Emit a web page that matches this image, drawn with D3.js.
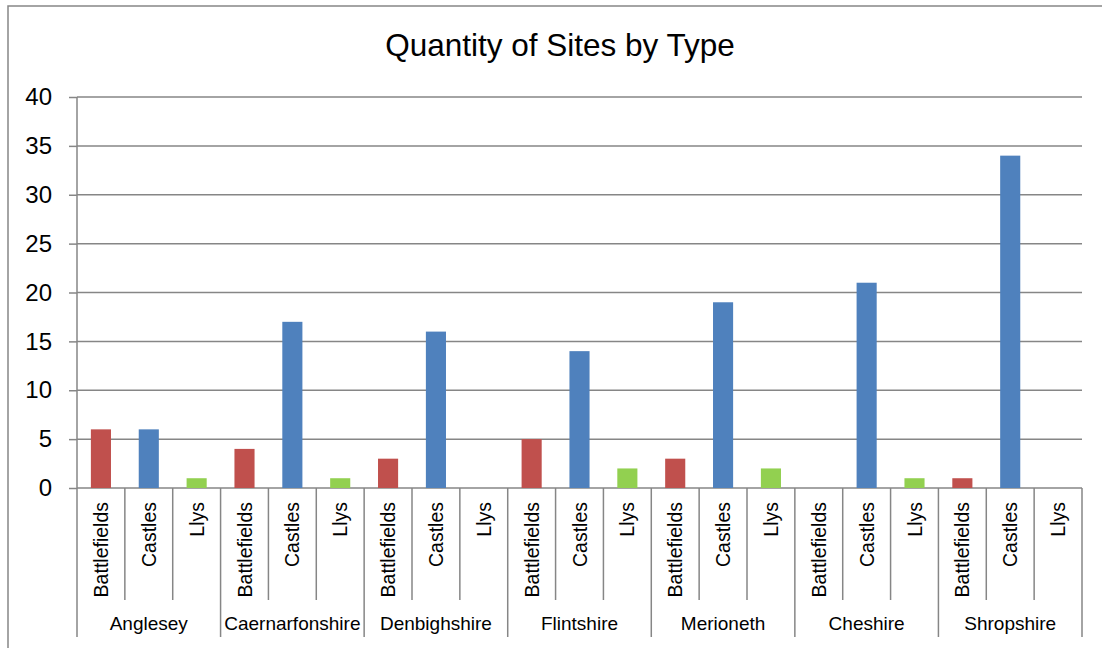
<!DOCTYPE html>
<html>
<head>
<meta charset="utf-8">
<script src="https://d3js.org/d3.v7.min.js"></script>
<style>
  body { margin: 0; background: #fff; }
  svg { display: block; font-family: "Liberation Sans", Arial, sans-serif; }
</style>
</head>
<body>
<div id="chart"></div>
<script>
// data
const counties = ["Anglesey", "Caernarfonshire", "Denbighshire", "Flintshire", "Merioneth", "Cheshire", "Shropshire"];
const types = ["Battlefields", "Castles", "Llys"];
const battlefields = [6, 4, 3, 5, 3, 0, 1];
const castles = [6, 17, 16, 14, 19, 21, 34];
const llys = [1, 1, 0, 2, 2, 1, 0];
const yTicks = [0, 5, 10, 15, 20, 25, 30, 35, 40];
const colors = { Battlefields: "#C0504D", Castles: "#4F81BD", Llys: "#92D050" };

const seriesByType = { Battlefields: battlefields, Castles: castles, Llys: llys };

// flatten into one row per county/type cell
const cells = [];
counties.forEach((c, i) => {
  types.forEach(t => {
    cells.push({ key: c + "|" + t, county: c, type: t, value: seriesByType[t][i] });
  });
});

const W = 1102, H = 648;
const plot = { left: 77, right: 1082, top: 97, bottom: 488 };

const svg = d3.select("#chart").append("svg")
  .attr("width", W)
  .attr("height", H);

// chart border
svg.append("rect")
  .attr("x", 8).attr("y", 6)
  .attr("width", W + 10).attr("height", H + 10)
  .attr("fill", "none")
  .attr("stroke", "#868686")
  .attr("stroke-width", 1.5);

// title
svg.append("text")
  .attr("x", 560).attr("y", 56)
  .attr("text-anchor", "middle")
  .attr("font-size", 31.5)
  .attr("fill", "#000")
  .text("Quantity of Sites by Type");

const x = d3.scaleBand()
  .domain(cells.map(d => d.key))
  .range([plot.left, plot.right])
  .padding(0);

const y = d3.scaleLinear()
  .domain([0, 40])
  .range([plot.bottom, plot.top]);

// gridlines + y ticks
const yAxis = svg.append("g")
  .attr("transform", "translate(" + plot.left + ",0)")
  .call(d3.axisLeft(y).tickValues(yTicks).tickSize(8).tickPadding(17));
yAxis.select(".domain").remove();
yAxis.selectAll(".tick line").attr("stroke", "#868686").attr("stroke-width", 1.5);
yAxis.selectAll(".tick text")
  .attr("font-size", 24)
  .attr("font-family", "Liberation Sans, Arial, sans-serif")
  .attr("fill", "#000");

svg.append("g")
  .selectAll("line")
  .data(yTicks)
  .join("line")
    .attr("x1", plot.left).attr("x2", plot.right)
    .attr("y1", d => y(d)).attr("y2", d => y(d))
    .attr("stroke", "#868686")
    .attr("stroke-width", 1.5);

// bars
const barFrac = 0.42;
svg.append("g")
  .selectAll("rect")
  .data(cells)
  .join("rect")
    .attr("x", d => x(d.key) + x.bandwidth() * (1 - barFrac) / 2)
    .attr("width", x.bandwidth() * barFrac)
    .attr("y", d => y(d.value))
    .attr("height", d => y(0) - y(d.value))
    .attr("fill", d => colors[d.type]);

// left axis line (extends down through the label area)
svg.append("line")
  .attr("x1", plot.left).attr("x2", plot.left)
  .attr("y1", plot.top).attr("y2", 637)
  .attr("stroke", "#868686").attr("stroke-width", 1.5);

// category dividers
const bounds = cells.map((d, i) => i).concat([cells.length]);
svg.append("g")
  .selectAll("line")
  .data(bounds.filter(i => i > 0))
  .join("line")
    .attr("x1", i => i < cells.length ? x(cells[i].key) : plot.right)
    .attr("x2", i => i < cells.length ? x(cells[i].key) : plot.right)
    .attr("y1", plot.bottom)
    .attr("y2", i => i % 3 === 0 ? 637 : 600)
    .attr("stroke", "#868686")
    .attr("stroke-width", 1.5);

// type labels (rotated)
svg.append("g")
  .selectAll("text")
  .data(cells)
  .join("text")
    .attr("transform", d => "translate(" + (x(d.key) + x.bandwidth() / 2) + ",502) rotate(-90)")
    .attr("text-anchor", "end")
    .attr("dy", "0.36em")
    .attr("font-size", 19.5)
    .attr("fill", "#000")
    .text(d => d.type);

// county labels
svg.append("g")
  .selectAll("text")
  .data(counties)
  .join("text")
    .attr("x", c => x(c + "|Castles") + x.bandwidth() / 2)
    .attr("y", 630)
    .attr("text-anchor", "middle")
    .attr("font-size", 19)
    .attr("fill", "#000")
    .text(c => c);
</script>
</body>
</html>
